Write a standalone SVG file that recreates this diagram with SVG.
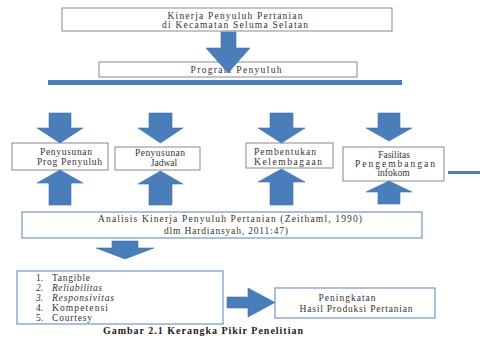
<svg xmlns="http://www.w3.org/2000/svg" width="480" height="348" viewBox="0 0 480 348">
<defs>
<style>
.bg{fill:#ffffff}
.gbox{fill:#ffffff;stroke:#8a8a8a;stroke-width:1}
.bbox{fill:#ffffff;stroke:#7f9ec8;stroke-width:1.3}
.arr{fill:#4a7ebb;stroke:#3f70aa;stroke-width:0.6}
.t{font-family:"Liberation Serif","Times New Roman",serif;font-size:9.5px;fill:#333333}
.c{text-anchor:middle}
.i{font-style:italic}
.cap{font-family:"Liberation Serif","Times New Roman",serif;font-size:10px;font-weight:bold;fill:#222222}
</style>
</defs>
<rect class="bg" x="0" y="0" width="480" height="348"/>

<g id="node-kinerja">
<rect class="gbox" x="62" y="8" width="330" height="23"/>
<text class="t c" x="235" y="18.5" textLength="135">Kinerja Penyuluh Pertanian</text>
<text class="t c" x="235" y="27.5" textLength="146">di Kecamatan Seluma Selatan</text>
</g>

<g id="node-program">
<rect class="gbox" x="99" y="62" width="258" height="15"/>
<text class="t c" x="236" y="72.5" textLength="91">Program Penyuluh</text>
</g>

<g id="node-penyusunan-prog">
<rect class="gbox" x="12" y="143" width="96" height="27"/>
<text class="t c" x="66" y="155" textLength="52">Penyusunan</text>
<text class="t c" x="69.5" y="164.5" textLength="65">Prog Penyuluh</text>
</g>

<g id="node-penyusunan-jadwal">
<rect class="gbox" x="115" y="147" width="85" height="23"/>
<text class="t c" x="160" y="156" textLength="50">Penyusunan</text>
<text class="t c" x="164" y="165.5">Jadwal</text>
</g>

<g id="node-pembentukan">
<rect class="gbox" x="246" y="143" width="87" height="25"/>
<text class="t c" x="285" y="155" textLength="62">Pembentukan</text>
<text class="t c" x="288" y="164.5" textLength="68">Kelembagaan</text>
</g>

<g id="node-fasilitas">
<rect class="gbox" x="343" y="147" width="101" height="34"/>
<text class="t c" x="394" y="157.5">Fasilitas</text>
<text class="t c" x="395" y="166.5" textLength="80">Pengembangan</text>
<text class="t c" x="393.5" y="175.5">infokom</text>
</g>

<g id="node-analisis">
<rect class="bbox" x="22" y="212" width="400" height="26"/>
<text class="t c" x="230" y="222" textLength="264">Analisis Kinerja Penyuluh Pertanian (Zeithaml, 1990)</text>
<text class="t c" x="226" y="233.5" textLength="124">dlm Hardiansyah, 2011:47)</text>
</g>

<g id="node-dimensi">
<rect class="bbox" x="17" y="271" width="206" height="53"/>
<text class="t" x="36" y="281">1.</text>
<text class="t" x="52" y="281" textLength="38">Tangible</text>
<text class="t i" x="36" y="291">2.</text>
<text class="t i" x="52" y="291" textLength="50">Reliabilitas</text>
<text class="t i" x="36" y="301">3.</text>
<text class="t i" x="52" y="301" textLength="62">Responsivitas</text>
<text class="t" x="36" y="311">4.</text>
<text class="t" x="52" y="311" textLength="56">Kompetensi</text>
<text class="t" x="36" y="321">5.</text>
<text class="t" x="52" y="321" textLength="40">Courtesy</text>
</g>

<g id="node-peningkatan">
<rect class="bbox" x="275" y="288" width="160" height="30"/>
<text class="t c" x="347" y="301" textLength="57">Peningkatan</text>
<text class="t c" x="356" y="311.5" textLength="113">Hasil Produksi Pertanian</text>
</g>

<g id="connectors">
<polygon class="arr" points="221,32 236,32 236,48 250,48 228,73 206,48 221,48"/>
<rect x="48" y="80" width="354" height="5" fill="#4a7ebb"/>
<polygon class="arr" points="49,113 71,113 71,128 83,128 60,143 37,128 49,128"/>
<polygon class="arr" points="149,113 172,113 172,128 183,128 160.5,143 138,128 149,128"/>
<polygon class="arr" points="270,113 293,113 293,128 305,128 281.5,143 258,128 270,128"/>
<polygon class="arr" points="378,113 400,113 400,128 412,128 389,141 366,128 378,128"/>
<polygon class="arr" points="49,205 71,205 71,183 83,183 60,170 37,183 49,183"/>
<polygon class="arr" points="149,205 172,205 172,184 183,184 160.5,171 138,184 149,184"/>
<polygon class="arr" points="270,205 293,205 293,182 305,182 281.5,169 258,182 270,182"/>
<polygon class="arr" points="378,204 400,204 400,192 412,192 389,181 366,192 378,192"/>
<line x1="448" y1="172.5" x2="480" y2="172.5" stroke="#4a7ebb" stroke-width="3"/>
<polygon class="arr" points="112,241 138,241 138,248 154,248 125,259 96,248 112,248"/>
<polygon class="arr" points="227,297 248,297 248,288 275,302.5 248,317 248,308 227,308"/>
</g>

<text class="cap" x="103" y="334" textLength="200">Gambar 2.1 Kerangka Pikir Penelitian</text>
</svg>
